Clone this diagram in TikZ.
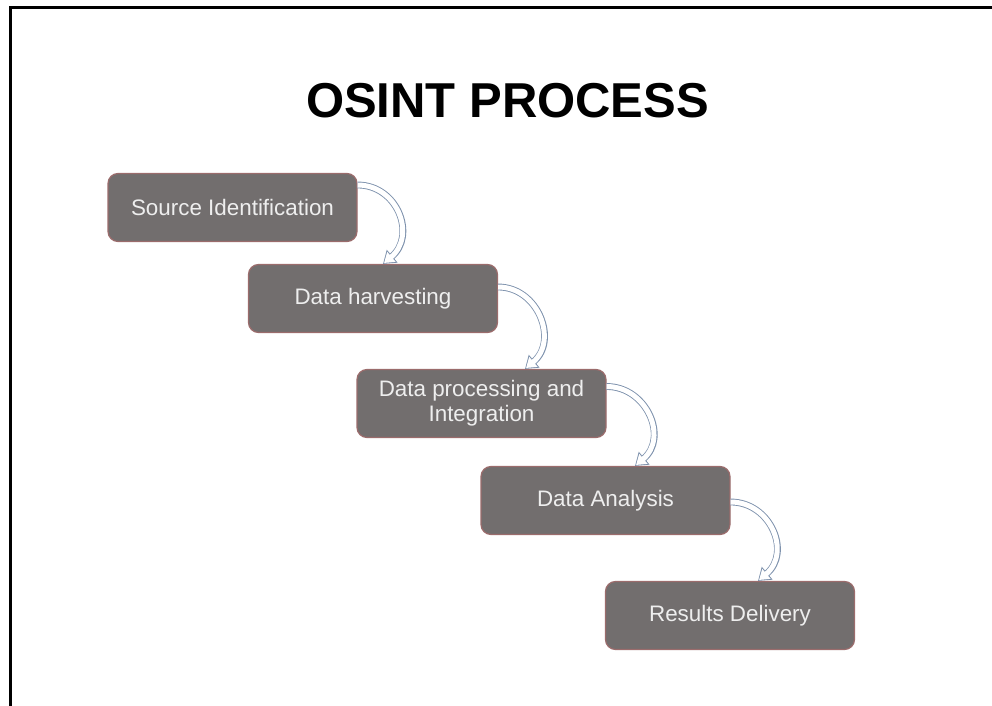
\documentclass[tikz,border=0pt]{standalone}
\usepackage{fontspec}
\setmainfont{Liberation Sans}
\usetikzlibrary{arrows.meta}
\definecolor{stagefill}{RGB}{114,110,110}
\definecolor{stageedge}{RGB}{155,108,108}
\definecolor{stagetext}{RGB}{238,238,238}
\definecolor{flowline}{RGB}{125,145,172}
\begin{document}
\begin{tikzpicture}[x=0.5pt,y=0.5pt,
  stage/.style={draw=stageedge, line width=0.6pt, fill=stagefill, text=stagetext, rounded corners=5pt, minimum width=124.5pt, minimum height=34pt, align=center, font=\fontsize{11.2}{12.6}\selectfont},
  flow/.style={draw=flowline, line width=3.4pt, -{Triangle[length=6pt,width=8pt]}, postaction={draw=white, line width=2.5pt, shorten >=0.7pt, -{Triangle[length=4.8pt,width=6.2pt]}}},
  sweep/.style={out=0, in=40, out distance=20pt, in distance=22pt}]
\useasboundingbox (0,0) rectangle (992,-706);
\draw [line width=1.5pt] (10,-706) -- (10,-8) -- (992,-8);
\node [anchor=base, font=\fontsize{24.5}{28}\selectfont\bfseries] (title) at (507.5,-118) {OSINT PROCESS};
\node [stage] (srcid) at (232.5,-207.5) {Source Identification};
\node [stage] (harvest) at (373,-298.5) {Data harvesting};
\node [stage] (procint) at (481.5,-403.5) {Data processing and\\Integration};
\node [stage] (analysis) at (605.5,-500.5) {Data Analysis};
\node [stage] (delivery) at (730,-615.5) {Results Delivery};
\draw [flow] ([yshift=11.25pt]srcid.east) to[sweep] ([xshift=5pt]harvest.north);
\draw [flow] ([yshift=5.75pt]harvest.east) to[sweep] ([xshift=21.75pt]procint.north);
\draw [flow] ([yshift=8.5pt]procint.east) to[sweep] ([xshift=14.75pt]analysis.north);
\draw [flow] ([yshift=-0.75pt]analysis.east) to[sweep] ([xshift=14pt]delivery.north);
\end{tikzpicture}
\end{document}
